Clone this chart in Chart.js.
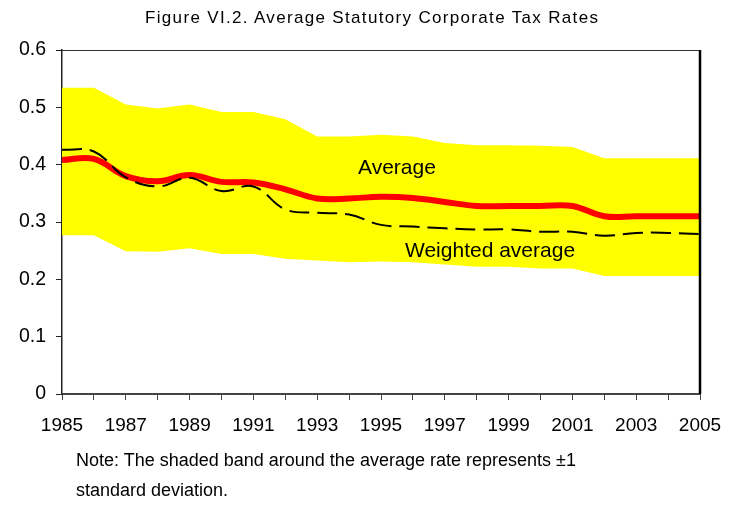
<!DOCTYPE html>
<html>
<head>
<meta charset="utf-8">
<script src="https://cdn.jsdelivr.net/npm/chart.js@4.4.1/dist/chart.umd.min.js"></script>
<style>
  html, body { margin: 0; padding: 0; background: #fff; }
  #wrap { position: relative; width: 729px; height: 528px; overflow: hidden; }
  #c { position: absolute; left: 0; top: 0; }
  .txt { position: absolute; font-family: "Liberation Sans", Arial, sans-serif; color: #000; white-space: nowrap; line-height: 1; }
  #title { left: 145px; top: 9px; font-size: 17px; letter-spacing: 1.33px; }
  #lblAvg { left: 358px; top: 156px; font-size: 21px; }
  #lblW { left: 405px; top: 239px; font-size: 21px; }
  #note { left: 76px; top: 445px; font-size: 18px; line-height: 30px; }
</style>
</head>
<body>
<div id="wrap">
  <canvas id="c" width="729" height="528"></canvas>
  <div class="txt" id="title">Figure VI.2. Average Statutory Corporate Tax Rates</div>
  <div class="txt" id="lblAvg">Average</div>
  <div class="txt" id="lblW">Weighted average</div>
  <div class="txt" id="note">Note: The shaded band around the average rate represents ±1<br>standard deviation.</div>
</div>
<script>
// ---- data ----
const years = ["1985","1986","1987","1988","1989","1990","1991","1992","1993","1994","1995",
               "1996","1997","1998","1999","2000","2001","2002","2003","2004","2005"];
const averageRate = [0.408, 0.410, 0.380, 0.371, 0.382, 0.370, 0.369, 0.357, 0.341, 0.341, 0.344,
                     0.342, 0.335, 0.328, 0.328, 0.328, 0.328, 0.310, 0.310, 0.310, 0.310];
const weightedRate = [0.426, 0.423, 0.378, 0.362, 0.377, 0.354, 0.362, 0.322, 0.316, 0.313, 0.295,
                      0.292, 0.289, 0.287, 0.287, 0.283, 0.283, 0.276, 0.281, 0.281, 0.279];
const bandUpper = [0.534, 0.534, 0.505, 0.498, 0.505, 0.492, 0.492, 0.479, 0.449, 0.449, 0.452,
                   0.449, 0.438, 0.434, 0.434, 0.433, 0.431, 0.411, 0.411, 0.411, 0.411];
const bandLower = [0.277, 0.277, 0.249, 0.248, 0.254, 0.244, 0.244, 0.236, 0.233, 0.230, 0.231,
                   0.230, 0.226, 0.222, 0.222, 0.219, 0.219, 0.206, 0.206, 0.206, 0.206];
const yTicks = [0, 0.1, 0.2, 0.3, 0.4, 0.5, 0.6];
const xLabelEvery = 2;

const FONT = '"Liberation Sans", Arial, sans-serif';

const framePlugin = {
  id: 'frame',
  afterDraw(chart) {
    const a = chart.chartArea, ctx = chart.ctx;
    ctx.save();
    ctx.strokeStyle = '#333';
    ctx.lineWidth = 1;
    ctx.beginPath();
    ctx.moveTo(a.left, a.top + 0.5);
    ctx.lineTo(a.right, a.top + 0.5);
    ctx.stroke();
    ctx.strokeStyle = '#000';
    ctx.lineWidth = 2.5;
    ctx.beginPath();
    ctx.moveTo(a.right, a.top);
    ctx.lineTo(a.right, a.bottom);
    ctx.stroke();
    ctx.restore();
  }
};

new Chart(document.getElementById('c'), {
  type: 'line',
  data: {
    labels: years,
    datasets: [
      { label: 'Weighted average', data: weightedRate, borderColor: '#000', borderWidth: 2,
        borderDash: [20, 8], tension: 0.4, pointRadius: 0, fill: false, order: 0 },
      { label: 'Average', data: averageRate, borderColor: '#FF0000', borderWidth: 6,
        tension: 0.4, pointRadius: 0, fill: false, order: 1 },
      { label: 'Upper', data: bandUpper, borderWidth: 0, borderColor: 'rgba(0,0,0,0)',
        backgroundColor: '#FFFF00', fill: '+1', tension: 0, pointRadius: 0, order: 2 },
      { label: 'Lower', data: bandLower, borderWidth: 0, borderColor: 'rgba(0,0,0,0)',
        fill: false, tension: 0, pointRadius: 0, order: 3 }
    ]
  },
  options: {
    responsive: false,
    animation: false,
    devicePixelRatio: 1,
    layout: { padding: { left: 0, right: 29, top: 50, bottom: 93 } },
    plugins: { legend: { display: false }, tooltip: { enabled: false }, title: { display: false } },
    scales: {
      x: {
        type: 'category',
        offset: false,
        grid: { display: true, drawOnChartArea: false, drawTicks: true, tickLength: 6, color: '#444', lineWidth: 1 },
        border: { display: true, color: '#444', width: 2 },
        ticks: {
          autoSkip: false, maxRotation: 0, minRotation: 0, padding: 14, color: '#000',
          font: { family: FONT, size: 19 },
          callback: (v, i) => (i % xLabelEvery === 0 ? years[i] : '')
        },
        afterFit: (s) => { s.height = 41; s.paddingLeft = 0; s.paddingRight = 0; }
      },
      y: {
        min: 0, max: 0.6,
        afterBuildTicks: (s) => { s.ticks = yTicks.map(v => ({ value: v })); },
        grid: { display: true, drawOnChartArea: false, drawTicks: true, tickLength: 6, color: '#222', lineWidth: 1 },
        border: { display: true, color: '#222', width: 1.5 },
        ticks: {
          padding: 10, color: '#000', font: { family: FONT, size: 19.5 },
          callback: (v) => (v === 0 ? '0' : v.toFixed(1))
        },
        afterFit: (s) => { s.width = 62; s.paddingTop = 0; s.paddingBottom = 0; }
      }
    }
  },
  plugins: [framePlugin]
});
</script>
</body>
</html>
